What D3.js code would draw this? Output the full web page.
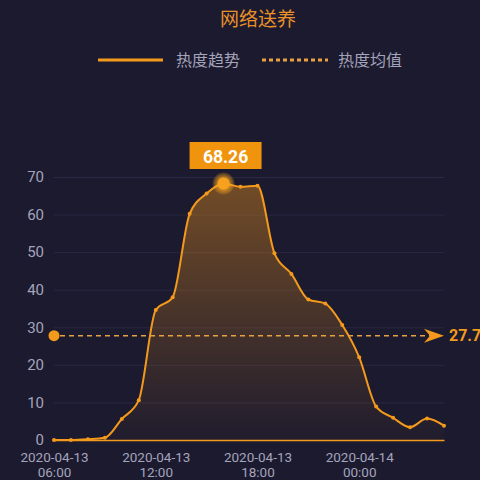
<!DOCTYPE html>
<html><head><meta charset="utf-8">
<script src="https://cdn.jsdelivr.net/npm/d3@7"></script>
<style>html,body{margin:0;padding:0;background:#1c1a2e;}svg{display:block;}</style>
</head><body><div id="chart"></div>
<script>
const title = "网络送养";
const seriesName = "热度趋势";
const avgName = "热度均值";
const times = ["2020-04-13 06:00","2020-04-13 07:00","2020-04-13 08:00","2020-04-13 09:00","2020-04-13 10:00","2020-04-13 11:00",
  "2020-04-13 12:00","2020-04-13 13:00","2020-04-13 14:00","2020-04-13 15:00","2020-04-13 16:00","2020-04-13 17:00",
  "2020-04-13 18:00","2020-04-13 19:00","2020-04-13 20:00","2020-04-13 21:00","2020-04-13 22:00","2020-04-13 23:00",
  "2020-04-14 00:00","2020-04-14 01:00","2020-04-14 02:00","2020-04-14 03:00","2020-04-14 04:00","2020-04-14 05:00"];
const values = [0,0,0.2,0.6,5.6,10.6,34.6,38.0,60.2,65.6,68.26,67.4,67.7,49.7,44.2,37.4,36.3,30.6,22.0,8.9,5.9,3.4,5.7,3.8];
const yTicks = [0,10,20,30,40,50,60,70];

const W = 480, H = 480;
const orange = "#f39a1c";
const svg = d3.select("#chart").append("svg").attr("width", W).attr("height", H)
  .style("font-family", "Roboto, 'Noto Sans CJK SC', sans-serif");
svg.append("rect").attr("width", W).attr("height", H).attr("fill", "#1c1a2e");

const x = d3.scalePoint().domain(times).range([54, 444]);
const y = d3.scaleLinear().domain([0, 70]).range([440, 177]);

const defs = svg.append("defs");
const grad = defs.append("linearGradient").attr("id", "ag").attr("x1", 0).attr("y1", 0).attr("x2", 0).attr("y2", 1);
grad.append("stop").attr("offset", "0%").attr("stop-color", "#e8901c").attr("stop-opacity", 0.42);
grad.append("stop").attr("offset", "100%").attr("stop-color", "#e8901c").attr("stop-opacity", 0.02);
const glow = defs.append("radialGradient").attr("id", "glow");
glow.append("stop").attr("offset", "40%").attr("stop-color", "#f7a21e").attr("stop-opacity", 0.9);
glow.append("stop").attr("offset", "100%").attr("stop-color", "#f7a21e").attr("stop-opacity", 0.15);

// title
svg.append("text").attr("x", 258).attr("y", 26).attr("text-anchor", "middle")
  .attr("fill", "#e8902a").attr("font-size", 19).text(title);

// legend
svg.append("line").attr("x1", 98).attr("x2", 163).attr("y1", 60).attr("y2", 60)
  .attr("stroke", orange).attr("stroke-width", 3);
svg.append("text").attr("x", 176).attr("y", 65.5).attr("fill", "#a4a4bc").attr("font-size", 16).text(seriesName);
svg.append("line").attr("x1", 262).attr("x2", 328).attr("y1", 60).attr("y2", 60)
  .attr("stroke", "#e8a040").attr("stroke-width", 3).attr("stroke-dasharray", "4,3");
svg.append("text").attr("x", 338).attr("y", 65.5).attr("fill", "#a4a4bc").attr("font-size", 16).text(avgName);

// grid + y axis
const yAxis = d3.axisLeft(y).tickValues(yTicks).tickSize(-(444 - 54)).tickPadding(10);
const gy = svg.append("g").attr("transform", "translate(54,0)").call(yAxis);
gy.select(".domain").remove();
gy.selectAll(".tick line").attr("stroke", "#2a2842").attr("stroke-width", 1);
gy.selectAll(".tick text").attr("fill", "#a4a4bc").attr("font-size", 15).attr("font-family", "Roboto, sans-serif");

// area + line
const curve = d3.curveMonotoneX;
const area = d3.area().x(d => x(d.t)).y0(y(0)).y1(d => y(d.v)).curve(curve);
const line = d3.line().x(d => x(d.t)).y(d => y(d.v)).curve(curve);
const data = times.map((t, i) => ({t, v: values[i]}));
svg.append("path").datum(data).attr("d", area).attr("fill", "url(#ag)");

// x axis
const xAxis = d3.axisBottom(x).tickValues(times.filter((t, i) => i % 6 === 0)).tickSize(0).tickFormat("");
const gx = svg.append("g").attr("transform", "translate(0,440)").call(xAxis);
gx.select(".domain").attr("stroke", orange).attr("stroke-width", 1.5);
gx.selectAll(".tick").each(function(d) {
  const parts = d.split(" ");
  const t = d3.select(this).append("text").attr("text-anchor", "middle").attr("fill", "#a4a4bc")
    .attr("font-size", 13.5).attr("font-family", "Roboto, sans-serif");
  t.append("tspan").attr("x", 0).attr("y", 22).text(parts[0]);
  t.append("tspan").attr("x", 0).attr("y", 37).text(parts[1]);
});

svg.append("path").datum(data).attr("d", line).attr("fill", "none").attr("stroke", orange).attr("stroke-width", 2);
svg.selectAll("circle.pt").data(data).enter().append("circle").attr("class", "pt")
  .attr("cx", d => x(d.t)).attr("cy", d => y(d.v)).attr("r", 2).attr("fill", orange);

// average mark line
const avg = d3.mean(values);
const ay = y(avg);
svg.append("line").attr("x1", 60).attr("x2", 432).attr("y1", ay).attr("y2", ay)
  .attr("stroke", "#e8a040").attr("stroke-width", 1.5).attr("stroke-dasharray", "5,4");
svg.append("circle").attr("cx", 54).attr("cy", ay).attr("r", 5.5).attr("fill", orange);
svg.append("path").attr("d", `M${444},${ay} L${424},${ay - 7} L${430},${ay} L${424},${ay + 7} Z`).attr("fill", orange);
svg.append("text").attr("x", 449).attr("y", ay + 5.5).attr("fill", orange).attr("font-size", 16)
  .attr("font-weight", "bold").text(avg.toFixed(2));

// max point
const maxI = d3.maxIndex(values);
const mx = x(times[maxI]), my = y(values[maxI]);
svg.append("circle").attr("cx", mx).attr("cy", my).attr("r", 11).attr("fill", "url(#glow)");
svg.append("circle").attr("cx", mx).attr("cy", my).attr("r", 6).attr("fill", "#f7a21e");
svg.append("rect").attr("x", mx - 34).attr("y", 142).attr("width", 72).attr("height", 27).attr("fill", "#f0940e");
svg.append("text").attr("x", mx + 2).attr("y", 162.5).attr("text-anchor", "middle").attr("fill", "#fff")
  .attr("font-size", 17.5).attr("font-weight", "bold").text(values[maxI].toFixed(2));
</script></body></html>
